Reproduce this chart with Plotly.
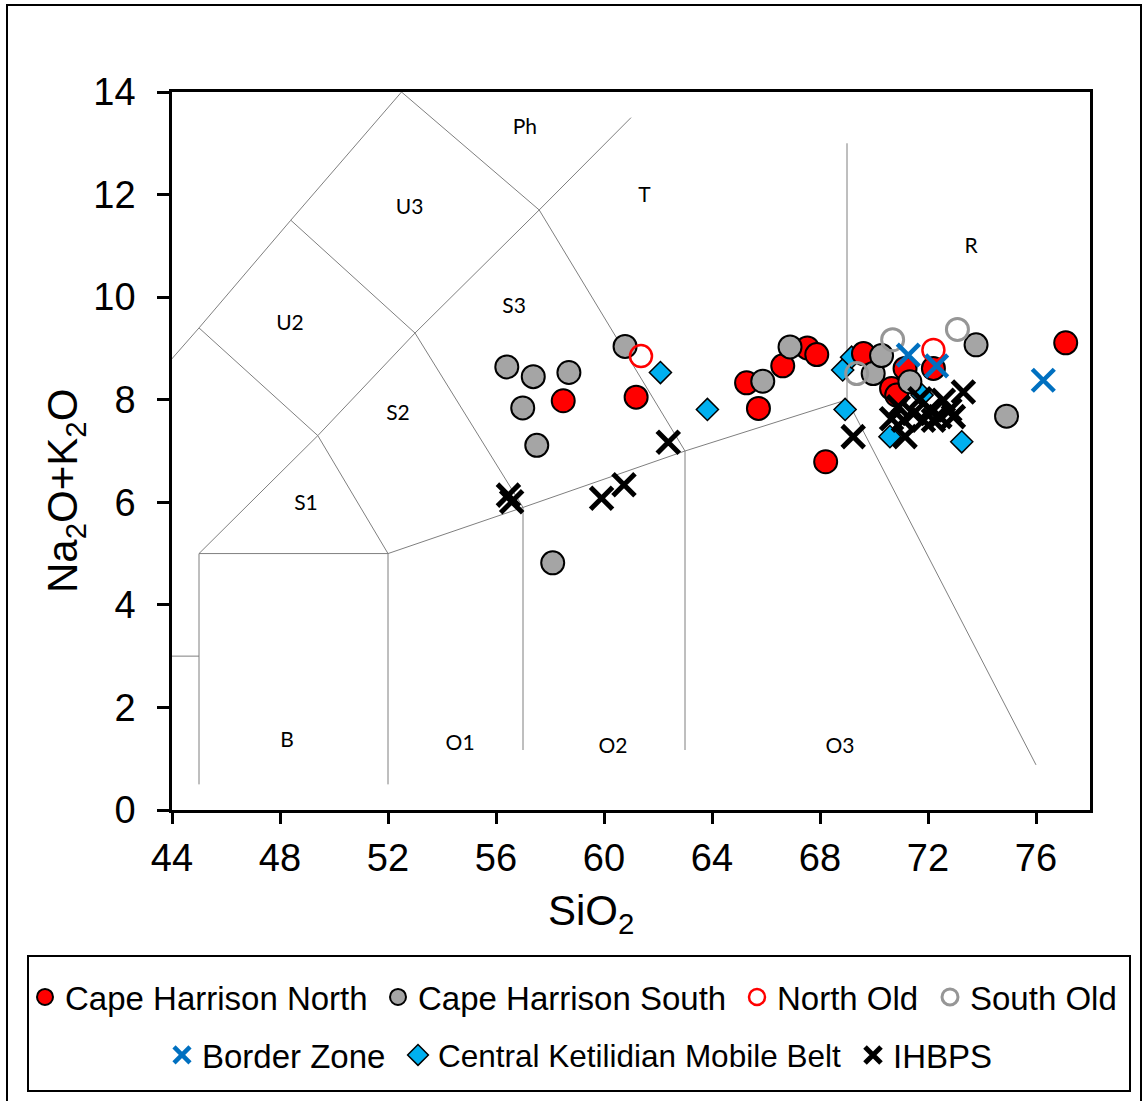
import plotly.graph_objects as go

# ---------------- data ----------------
chn_x = [58.49, 61.19, 65.28, 65.72, 66.62, 67.53, 67.88, 68.21, 69.61, 70.65, 70.84, 71.15, 72.20, 77.10]
chn_y = [7.98, 8.05, 8.33, 7.83, 8.66, 9.01, 8.88, 6.79, 8.90, 8.22, 8.09, 8.61, 8.61, 9.11]

chs_x = [56.40, 57.38, 58.70, 56.99, 57.51, 60.78, 58.10, 65.88, 66.89, 69.97, 70.28, 71.33, 73.78, 74.91]
chs_y = [8.64, 8.45, 8.53, 7.84, 7.11, 9.04, 4.82, 8.36, 9.03, 8.51, 8.86, 8.35, 9.07, 7.68]

nold_x = [61.37, 72.20]
nold_y = [8.85, 8.97]

sold_x = [69.36, 70.69, 73.09]
sold_y = [8.51, 9.17, 9.37]

bz_x = [71.27, 72.32, 76.27]
bz_y = [8.87, 8.66, 8.38]

ckmb_x = [62.09, 63.83, 68.84, 69.17, 68.93, 70.59, 71.78, 73.25]
ckmb_y = [8.53, 7.81, 8.58, 8.83, 7.81, 7.28, 8.09, 7.18]

ihb_x = [56.46, 56.58, 59.91, 60.74, 62.38, 69.23, 73.31, 70.65, 70.90, 71.15, 71.70,
         72.07, 72.44, 72.94, 72.57, 71.46, 72.20, 72.81, 71.83, 71.09]
ihb_y = [6.14, 6.01, 6.08, 6.34, 7.17, 7.28, 8.15, 7.63, 7.86, 7.28, 8.02,
         7.80, 7.67, 7.67, 7.99, 7.73, 7.60, 7.80, 7.60, 7.60]

# TAS field boundaries (SiO2, Na2O+K2O) polylines
tas_lines = [
    [(41, 3), (45, 3)],
    [(45, 0.5), (45, 5), (52, 5)],
    [(52, 0.5), (52, 5), (57, 5.9), (63, 7), (69, 8)],
    [(57, 1.17), (57, 5.9)],
    [(63, 1.17), (63, 7)],
    [(69, 13), (69, 8), (76.0, 0.88)],
    [(45, 5), (49.4, 7.3), (53, 9.3), (57.6, 11.7), (61, 13.5)],
    [(49.4, 7.3), (52, 5)],
    [(53, 9.3), (57, 5.9)],
    [(57.6, 11.7), (63, 7)],
    [(41, 7), (45, 9.4), (48.4, 11.5), (52.5, 14)],
    [(45, 9.4), (49.4, 7.3)],
    [(48.4, 11.5), (53, 9.3)],
    [(52.5, 14), (57.6, 11.7)],
]

field_names = ["Ph", "T", "U3", "R", "U2", "S3", "S2", "S1", "B", "O1", "O2", "O3"]
field_x = [57.07, 61.5, 52.8, 73.6, 48.37, 56.67, 52.37, 48.96, 48.26, 54.67, 60.33, 68.74]
field_y = [13.29, 11.95, 11.73, 10.97, 9.47, 9.79, 7.70, 5.96, 1.33, 1.27, 1.21, 1.21]

x_ticks = [44, 48, 52, 56, 60, 64, 68, 72, 76]
y_ticks = [0, 2, 4, 6, 8, 10, 12, 14]

# ---------------- figure ----------------
W, H = 1145, 1101
L, R, T, B = 172, 1090, 92, 810
def px(xp):
    return (xp - L) / (R - L)
def py(yp):
    return (B - yp) / (B - T)

fig = go.Figure()

lx, ly = [], []
for seg in tas_lines:
    for (a, b) in seg:
        lx.append(a); ly.append(b)
    lx.append(None); ly.append(None)
fig.add_trace(go.Scatter(x=lx, y=ly, mode="lines", line=dict(color="#7f7f7f", width=1),
                         showlegend=False, hoverinfo="skip"))

fig.add_trace(go.Scatter(x=field_x, y=field_y, mode="text", text=field_names,
                         textfont=dict(family="Lato, Open Sans, sans-serif", size=21, color="black"),
                         showlegend=False, hoverinfo="skip"))

FONT = "Liberation Sans, Arial, sans-serif"

fig.add_trace(go.Scatter(x=ckmb_x, y=ckmb_y, mode="markers", name="Central Ketilidian Mobile Belt",
                         legend="legend6",
                         marker=dict(symbol="diamond", size=17, color="#00B0F0",
                                     line=dict(color="black", width=1.5))))
fig.add_trace(go.Scatter(x=chn_x, y=chn_y, mode="markers", name="Cape Harrison North",
                         legend="legend",
                         marker=dict(symbol="circle", size=23, color="#FF0000",
                                     line=dict(color="black", width=2))))
fig.add_trace(go.Scatter(x=chs_x, y=chs_y, mode="markers", name="Cape Harrison South",
                         legend="legend2",
                         marker=dict(symbol="circle", size=23, color="#A5A5A5",
                                     line=dict(color="black", width=2))))
fig.add_trace(go.Scatter(x=nold_x, y=nold_y, mode="markers", name="North Old",
                         legend="legend3",
                         marker=dict(symbol="circle-open", size=22, color="#FF0000",
                                     line=dict(width=2.5))))
fig.add_trace(go.Scatter(x=sold_x, y=sold_y, mode="markers", name="South Old",
                         legend="legend4",
                         marker=dict(symbol="circle-open", size=22, color="#969696",
                                     line=dict(width=3))))
fig.add_trace(go.Scatter(x=bz_x, y=bz_y, mode="markers", name="Border Zone",
                         legend="legend5",
                         marker=dict(symbol="x-thin", size=22, color="#0070C0",
                                     line=dict(color="#0070C0", width=4.5))))
fig.add_trace(go.Scatter(x=ihb_x, y=ihb_y, mode="markers", name="IHBPS",
                         legend="legend7",
                         marker=dict(symbol="x-thin", size=22, color="black",
                                     line=dict(color="black", width=5))))

axis_font = dict(family=FONT, size=38, color="black")
fig.update_xaxes(range=[44, 78], tickvals=x_ticks, ticks="outside", ticklen=11, tickwidth=2.5,
                 tickcolor="black", showline=True, linecolor="black", linewidth=2.5, mirror=True,
                 showgrid=False, zeroline=False, tickfont=axis_font, ticklabelstandoff=2)
fig.update_yaxes(range=[0, 14], tickvals=y_ticks, ticks="outside", ticklen=12, tickwidth=2.5,
                 tickcolor="black", showline=True, linecolor="black", linewidth=2.5, mirror=True,
                 showgrid=False, zeroline=False, tickfont=axis_font, ticklabelstandoff=14)

fig.add_annotation(text="SiO<sub>2</sub>", xref="paper", yref="paper", x=px(591), y=py(913),
                   showarrow=False, font=dict(family=FONT, size=42, color="black"),
                   xanchor="center", yanchor="middle")
fig.add_annotation(text="Na<sub>2</sub>O+K<sub>2</sub>O", xref="paper", yref="paper", x=px(65), y=py(491),
                   showarrow=False, textangle=-90,
                   font=dict(family=FONT, size=42, color="black"),
                   xanchor="center", yanchor="middle")

# legend box and outer frame
fig.add_shape(type="rect", xref="paper", yref="paper", x0=px(28), x1=px(1130), y0=py(1091), y1=py(956),
              line=dict(color="black", width=2), fillcolor="rgba(0,0,0,0)", layer="below")
fig.add_shape(type="rect", xref="paper", yref="paper", x0=px(7), x1=px(1141), y0=py(1120), y1=py(5),
              line=dict(color="black", width=2), fillcolor="rgba(0,0,0,0)", layer="below")

# one legend per entry, placed like the reference rows (text start px, row y px, font size)
row1_y, row2_y = 997, 1055
leg_pos = {
    "legend": (65, row1_y, 33), "legend2": (418, row1_y, 33), "legend3": (777, row1_y, 33),
    "legend4": (970, row1_y, 33),
    "legend5": (202, row2_y, 33), "legend6": (438, row2_y, 31.5), "legend7": (893, row2_y, 33),
}
legs = {}
for k, (tx, ty, fs) in leg_pos.items():
    legs[k] = dict(orientation="h", x=px(tx - 40), y=py(ty), xanchor="left", yanchor="middle",
                   font=dict(family=FONT, size=fs, color="black"),
                   bgcolor="rgba(0,0,0,0)", itemwidth=30, borderwidth=0)

fig.update_layout(
    width=W, height=H,
    margin=dict(l=L, r=W - R, t=T, b=H - B),
    paper_bgcolor="white", plot_bgcolor="white",
    **legs,
)

fig.write_html("out.html", config={"displayModeBar": False},
               post_script="document.body.style.margin='0';document.body.style.overflow='hidden';")
